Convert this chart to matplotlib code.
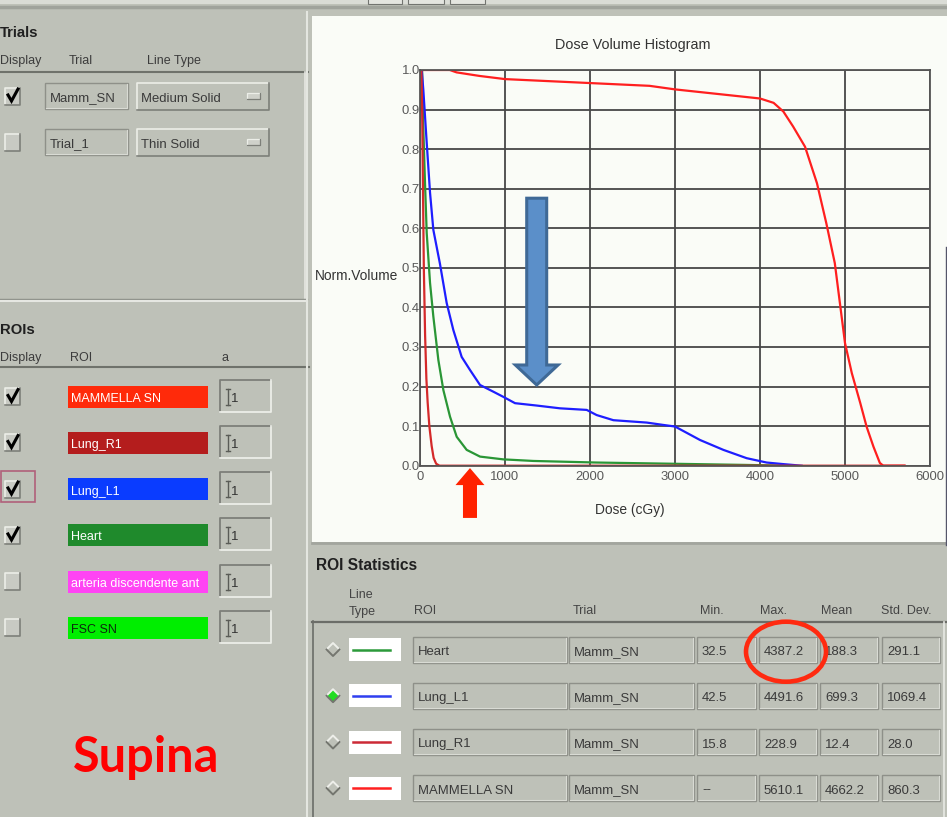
import matplotlib
matplotlib.use("Agg")
import matplotlib.pyplot as plt
from matplotlib import font_manager
from matplotlib.patches import Rectangle, Ellipse, Polygon, FancyArrow

# ---- data ----
dose_ticks = [0, 1000, 2000, 3000, 4000, 5000, 6000]
dose_tick_labels = ["0", "1000", "2000", "3000", "4000", "5000", "6000"]
vol_ticks = [0.0, 0.1, 0.2, 0.3, 0.4, 0.5, 0.6, 0.7, 0.8, 0.9, 1.0]
vol_tick_labels = ["0.0", "0.1", "0.2", "0.3", "0.4", "0.5", "0.6", "0.7", "0.8", "0.9", "1.0"]

mammella_dose = [0, 350, 430, 700, 1000, 2000, 2700, 3000, 4000, 4160, 4275, 4390,
                 4530, 4670, 4780, 4880, 4940, 5000, 5080, 5180, 5255, 5335, 5410, 5450, 5700]
mammella_vol = [1.0, 1.0, 0.994, 0.985, 0.977, 0.967, 0.96, 0.951, 0.928, 0.917, 0.895, 0.857,
                0.806, 0.714, 0.613, 0.512, 0.411, 0.31, 0.234, 0.158, 0.098, 0.048, 0.007, 0.0, 0.0]

lung_l1_dose = [0, 20, 39, 79, 118, 157, 235, 314, 392, 490, 588, 706, 863, 980, 1118,
                1373, 1647, 1961, 2078, 2275, 2667, 2863, 3000, 3294, 3569, 3843, 4078, 4275, 4490]
lung_l1_vol = [1.0, 1.0, 0.95, 0.816, 0.69, 0.596, 0.51, 0.411, 0.343, 0.275, 0.242, 0.204, 0.187,
               0.174, 0.158, 0.152, 0.145, 0.141, 0.128, 0.115, 0.109, 0.103, 0.099, 0.065, 0.04,
               0.019, 0.008, 0.004, 0.0]

heart_dose = [0, 25, 35, 59, 79, 118, 157, 216, 275, 353, 432, 549, 706, 980, 1333, 2078, 3250, 4387]
heart_vol = [1.0, 1.0, 0.88, 0.714, 0.588, 0.462, 0.377, 0.267, 0.191, 0.124, 0.073, 0.04,
             0.023, 0.016, 0.012, 0.008, 0.004, 0.0]

lung_r1_dose = [0, 16, 25, 35, 45, 60, 75, 90, 110, 137, 160, 190, 229, 5700]
lung_r1_vol = [1.0, 1.0, 0.9, 0.7, 0.5, 0.33, 0.22, 0.16, 0.1, 0.05, 0.02, 0.005, 0.0, 0.0]

trials = ["Mamm_SN", "Trial_1"]
trial_line_types = ["Medium Solid", "Thin Solid"]
trial_shown = [True, False]

roi_names = ["MAMMELLA SN", "Lung_R1", "Lung_L1", "Heart", "arteria discendente ant", "FSC SN"]
roi_colors = ["#ff2a0a", "#b41d1d", "#0a3cff", "#1f8a2c", "#ff44f4", "#00ee00"]
roi_text_colors = ["white", "white", "white", "white", "white", "#0c2a0c"]
roi_shown = [True, True, True, True, False, False]
roi_alpha = ["1", "1", "1", "1", "1", "1"]

stats_rois = ["Heart", "Lung_L1", "Lung_R1", "MAMMELLA SN"]
stats_colors = ["#2c9a3a", "#2f3ff0", "#cc2a36", "#ff2020"]
stats_trial = ["Mamm_SN", "Mamm_SN", "Mamm_SN", "Mamm_SN"]
stats_min = ["32.5", "42.5", "15.8", "--"]
stats_max = ["4387.2", "4491.6", "228.9", "5610.1"]
stats_mean = ["188.3", "699.3", "12.4", "4662.2"]
stats_std = ["291.1", "1069.4", "28.0", "860.3"]

# ---- fonts ----
names = {f.name for f in font_manager.fontManager.ttflist}
if "Liberation Sans Narrow" in names:
    UI_FONT, FS = "Liberation Sans Narrow", 1.0
else:
    UI_FONT, FS = "Liberation Sans", 0.86
plt.rcParams["font.family"] = [UI_FONT, "DejaVu Sans"]

BG = "#bec1b8"
PANEL = "#fafcf7"
DARK = "#7d7f79"
LIGHT = "#eceee8"

W, H = 947, 817
fig = plt.figure(figsize=(W / 100, H / 100), dpi=100)
fig.patch.set_facecolor(BG)
ui = fig.add_axes([0, 0, 1, 1])
ui.set_xlim(0, W)
ui.set_ylim(H, 0)
ui.axis("off")


def txt(x, y, s, size=11, color="#333333", weight="normal", ha="left",
        va="center_baseline", **kw):
    ui.text(x, y, s, fontsize=size * FS, color=color, fontweight=weight,
            ha=ha, va=va, **kw)


def bevel(x, y, w, h, face=BG, sunken=True, lw=1.0, z=2):
    ui.add_patch(Rectangle((x, y), w, h, fc=face, ec="none", zorder=z))
    tl = DARK if sunken else LIGHT
    br = LIGHT if sunken else DARK
    ui.plot([x, x, x + w], [y + h, y, y], color=tl, lw=lw, zorder=z + 0.1)
    ui.plot([x, x + w, x + w], [y + h, y + h, y], color=br, lw=lw, zorder=z + 0.1)


def field(x0, x1, cy, s, h=26):
    ui.add_patch(Rectangle((x0, cy - h / 2), x1 - x0, h, fc=BG, ec="#8e9089", lw=1.0, zorder=2))
    ui.plot([x0 + 1, x1 - 1, x1 - 1], [cy + h / 2 - 1, cy + h / 2 - 1, cy - h / 2 + 1],
            color="#d9dbd4", lw=0.8, zorder=2.1)
    txt(x0 + 5, cy + 1, s, size=11, color="#3a3a3a", zorder=3)


def checkbox(x, cy, checked):
    bevel(x, cy - 8.5, 15, 17, face="#c8cac3", sunken=False, lw=1.2)
    if checked:
        ui.plot([x + 3, x + 6.5, x + 13], [cy - 1, cy + 5, cy - 7], color="black",
                lw=2.2, solid_joinstyle="miter", zorder=3)


def diamond(cx, cy, r, fill=None):
    if fill:
        ui.add_patch(Polygon([(cx - r, cy), (cx, cy - r), (cx + r, cy), (cx, cy + r)],
                             closed=True, fc=fill, ec="none", zorder=3))
    ui.plot([cx - r, cx, cx + r], [cy, cy - r, cy], color="#eeefea", lw=1.4, zorder=3.1)
    ui.plot([cx - r, cx, cx + r], [cy, cy + r, cy], color="#74766f", lw=1.4, zorder=3.1)


# ---- window chrome ----
ui.add_patch(Rectangle((0, 0), W, 4, fc="#dadcd6", ec="none"))
ui.plot([0, W], [7, 7], color="#a0a39c", lw=2.5)
for tx0, tx1 in [(368, 402), (408, 444), (450, 485)]:
    ui.add_patch(Rectangle((tx0, -2), tx1 - tx0, 6, fc="#e4e5e0", ec="#727470", lw=0.8))

# ---- Trials panel ----
txt(0, 31, "Trials", size=12.5, weight="bold", color="#202020")
txt(0, 59, "Display", size=10.5, color="#3c3c3c")
txt(69, 59, "Trial", size=10.5, color="#3c3c3c")
txt(147, 59, "Line Type", size=10.5, color="#3c3c3c")
ui.plot([0, 308], [72, 72], color="#6f726b", lw=1.5)
ui.plot([305, 305], [72, 298], color="#e6e7e2", lw=1.2)
for i, cy in enumerate([96, 142]):
    checkbox(5, cy, trial_shown[i])
    field(45, 128, cy, trials[i])
    bevel(137, cy - 13.5, 132, 27, sunken=False, lw=1.2)
    txt(141, cy + 1, trial_line_types[i], size=11, color="#3a3a3a", zorder=3)
    bevel(247, cy - 3, 13, 6, face="#cfd1ca", sunken=False, lw=0.9, z=3)
ui.plot([0, 307], [299, 299], color="#8e918a", lw=1.0)
ui.plot([0, 307], [301, 301], color="#e6e7e2", lw=1.5)

# ---- ROIs panel ----
txt(0, 328, "ROIs", size=12.5, weight="bold", color="#202020")
txt(0, 356, "Display", size=10.5, color="#3c3c3c")
txt(70, 356, "ROI", size=10.5, color="#3c3c3c")
txt(222, 356, "a", size=10.5, color="#3c3c3c")
ui.plot([0, 309], [367, 367], color="#6f726b", lw=1.5)
roi_rows = [396.5, 442.5, 489, 535, 581.5, 627.5]
for i, cy in enumerate(roi_rows):
    checkbox(5, cy, roi_shown[i])
    ui.add_patch(Rectangle((68, cy - 11), 140, 22, fc=roi_colors[i], ec="none", zorder=2))
    txt(71, cy + 1, roi_names[i], size=10.5, color=roi_text_colors[i], zorder=3)
    bevel(220, cy - 17, 51, 32, sunken=True, lw=1.3)
    ui.plot([227.5, 227.5], [cy - 8, cy + 8], color="#5a5c57", lw=1.0, zorder=3)
    ui.plot([225.5, 229.5], [cy - 8, cy - 8], color="#5a5c57", lw=1.0, zorder=3)
    ui.plot([225.5, 229.5], [cy + 8, cy + 8], color="#5a5c57", lw=1.0, zorder=3)
    txt(231, cy + 1, roi_alpha[i], size=11, color="#333333", zorder=3)
ui.add_patch(Rectangle((0.5, roi_rows[2] - 18), 34, 31, fc="none", ec="#b0607a", lw=1.2, zorder=4))

txt(146, 758, "Supina", size=35 / FS, color="#ff0000", weight="bold", ha="center",
    va="center", family="Lato")

# ---- separators and plot panel ----
ui.plot([307, 307], [12, H], color="#e4e6e0", lw=1.5)
ui.add_patch(Rectangle((312, 16), W - 312, 526, fc=PANEL, ec="none"))
ui.plot([312, W], [543, 543], color="#a2a59e", lw=2)
ui.plot([945.5, 945.5], [247, 545], color="#55566a", lw=1.0, zorder=6)

# ---- ROI statistics table ----
txt(316, 564, "ROI Statistics", size=13, weight="bold", color="#202020")
txt(349, 594, "Line", size=10.5, color="#444444")
txt(349, 610, "Type", size=10.5, color="#444444")
for hx, hs in [(414, "ROI"), (573, "Trial"), (700, "Min."), (760, "Max."),
               (821, "Mean"), (881, "Std. Dev.")]:
    txt(hx, 610, hs, size=10.5, color="#444444")
ui.plot([312, W], [621.5, 621.5], color="#6b6d68", lw=1.6)
ui.plot([312.5, 312.5], [621, H], color="#6b6d68", lw=1.2)
ui.plot([944, 944], [622, H], color="#e8e9e4", lw=1.2)

stat_rows = [649.5, 695.7, 742, 788]
for i, cy in enumerate(stat_rows):
    diamond(333, cy, 6.5, fill="#22dd22" if stats_rois[i] == "Lung_L1" else None)
    ui.add_patch(Rectangle((349, cy - 11.5), 52, 23, fc="white", ec="none", zorder=2))
    ui.plot([353, 390], [cy, cy], color=stats_colors[i], lw=1.8, zorder=3)
    field(413, 567, cy, stats_rois[i])
    field(569, 694, cy, stats_trial[i])
    field(697, 756, cy, stats_min[i])
    field(759, 817, cy, stats_max[i])
    field(820, 878, cy, stats_mean[i])
    field(882, 940, cy, stats_std[i])

ui.add_patch(Ellipse((786, 651.7), 80, 60, fc="none", ec="#ff2a10", lw=3.3, zorder=10))

# ---- DVH plot ----
ax = fig.add_axes([420 / W, 1 - 465.7 / H, 510 / W, (465.7 - 70) / H])
ax.set_facecolor(PANEL)
ax.set_xlim(0, 6000)
ax.set_ylim(0, 1.0)
ax.set_xticks(dose_ticks)
ax.set_xticklabels(dose_tick_labels)
ax.set_yticks(vol_ticks)
ax.set_yticklabels(vol_tick_labels)
ax.set_axisbelow(True)
ax.grid(True, color="#474747", lw=1.3)
ax.tick_params(length=0, labelsize=11 * FS, labelcolor="#5a5a5a")
ax.tick_params(axis="y", pad=0)
ax.tick_params(axis="x", pad=4)
for sp in ax.spines.values():
    sp.set_color("#555555")
    sp.set_linewidth(1.3)

ax.plot(heart_dose, heart_vol, color="#2a9636", lw=1.6)
ax.plot(lung_l1_dose, lung_l1_vol, color="#1e1eff", lw=1.6)
ax.plot(lung_r1_dose, lung_r1_vol, color="#d42a2a", lw=1.6)
ax.plot(mammella_dose, mammella_vol, color="#ff1f1f", lw=1.6)

ax.text(0.418, 1.063, "Dose Volume Histogram", transform=ax.transAxes, ha="center",
        va="center", fontsize=12 * FS, color="#333333")
ax.set_ylabel("Norm.Volume", rotation=0, ha="right", va="center", fontsize=11.5 * FS,
              color="#333333")
ax.yaxis.set_label_coords(-0.043, 0.479)
ax.set_xlabel("Dose (cGy)", va="center", fontsize=11.5 * FS, color="#333333")
ax.xaxis.set_label_coords(0.412, -0.112)

ax.add_patch(FancyArrow(1373, 0.676, 0, 0.204 - 0.676, width=235, head_width=502,
                        head_length=0.0505, length_includes_head=True,
                        fc="#5b8fc9", ec="#3f6996", lw=2.2, zorder=5))
ax.add_patch(FancyArrow(588, -0.132, 0, 0.126, width=165, head_width=341,
                        head_length=0.043, length_includes_head=True,
                        fc="#ff2200", ec="none", zorder=5, clip_on=False))

fig.savefig("out.png", dpi=100, facecolor=BG)
